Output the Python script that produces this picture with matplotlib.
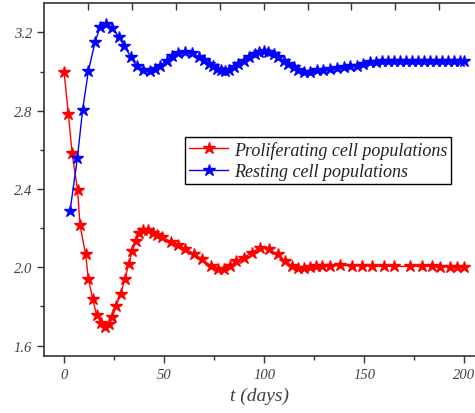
import matplotlib
matplotlib.use("Agg")
import matplotlib.pyplot as plt
from matplotlib.ticker import MultipleLocator

# Proliferating cell populations (red)
t_prolif = [0, 2.2, 4, 6.8, 8, 10.8, 12.2, 14.3, 16.3, 18.5,
            20.7, 22.3, 24.2, 26, 28.3, 30.5, 32.3, 34.2, 35.8, 37.7,
            39.7, 41.8, 44.3, 46.3, 49, 53.3, 57, 60.5, 64.7, 69,
            73.5, 77, 80, 83, 86, 89.7, 93.8, 98, 102.5, 106.8,
            110.5, 113.8, 117, 120, 122.8, 125.7, 129, 133, 138, 143.8,
            148.8, 153.8, 159.7, 165, 173, 178.8, 183.8, 188, 193, 196.3,
            200]
y_prolif = [3.0, 2.783, 2.584, 2.393, 2.216, 2.066, 1.939, 1.84, 1.757, 1.714,
            1.697, 1.71, 1.748, 1.80, 1.866, 1.942, 2.019, 2.083, 2.134, 2.173,
            2.19, 2.19, 2.177, 2.165, 2.155, 2.131, 2.114, 2.095, 2.07, 2.041,
            2.007, 1.993, 1.993, 2.007, 2.03, 2.05, 2.075, 2.10, 2.092, 2.066,
            2.032, 2.007, 1.995, 1.995, 2.003, 2.005, 2.007, 2.008, 2.01, 2.008,
            2.008, 2.005, 2.005, 2.005, 2.005, 2.005, 2.005, 2.003, 2.003, 2.003,
            2.003]

# Resting cell populations (blue)
t_rest = [3, 6.7, 9.3, 12.2, 15.5, 18, 21, 24.2, 27.5, 30.2,
          33.5, 36.3, 39.7, 43, 45.5, 48, 51.3, 54.2, 57.2, 60.5,
          63.8, 67.2, 69.7, 72.2, 74.3, 76.3, 78.5, 80.5, 82.5, 84.7,
          87, 89.7, 92.5, 95.5, 97.5, 99.7, 102, 104.7, 107, 109.7,
          112, 114.7, 117, 119.7, 123, 126.3, 129.5, 133, 136.3, 139.7,
          143, 146.3, 149.5, 153, 156, 159, 162, 165, 168, 171,
          174, 177, 180, 183, 186, 189, 192, 195, 198, 200]
y_rest = [2.287, 2.559, 2.805, 3.004, 3.15, 3.228, 3.245, 3.22, 3.177, 3.128,
          3.074, 3.026, 3.006, 3.002, 3.015, 3.03, 3.056, 3.079, 3.094, 3.102,
          3.096, 3.074, 3.057, 3.039, 3.026, 3.015, 3.006, 3.002, 3.008, 3.022,
          3.038, 3.055, 3.073, 3.09, 3.1, 3.105, 3.1, 3.09, 3.074, 3.055,
          3.038, 3.022, 3.008, 2.997, 3.0, 3.006, 3.01, 3.015, 3.018, 3.022,
          3.026, 3.03, 3.038, 3.047, 3.05, 3.052, 3.052, 3.053, 3.052, 3.052,
          3.052, 3.052, 3.052, 3.052, 3.052, 3.052, 3.052, 3.052, 3.052, 3.052]

x_ticks = [0, 50, 100, 150, 200]
y_ticks = [1.6, 2.0, 2.4, 2.8, 3.2]
top_ticks = [12.2, 34.1, 56, 77.9, 99.8, 121.7, 143.6, 165.5, 187.4]

serif = ["Liberation Serif", "DejaVu Serif"]
label_color = "#404040"

fig = plt.figure(figsize=(4.75, 4.14), dpi=100)
ax = fig.add_axes([0.0926, 0.1377, 0.906, 0.8526])

ax.plot(t_prolif, y_prolif, color="#ff0000", lw=1, marker="*", ms=9,
        label="Proliferating cell populations")
ax.plot(t_rest, y_rest, color="#0000ff", lw=1, marker="*", ms=9,
        label="Resting cell populations")

ax.set_xlim(-10, 205)
ax.set_ylim(1.547, 3.35)
ax.set_xticks(x_ticks)
ax.set_yticks(y_ticks)
ax.xaxis.set_minor_locator(MultipleLocator(25))
ax.yaxis.set_minor_locator(MultipleLocator(0.2))
ax.set_xticklabels([str(v) for v in x_ticks])
ax.set_yticklabels([f"{v:.1f}" for v in y_ticks])

ax.tick_params(which="major", direction="out", length=5, width=1, color="#333333",
               labelsize=10.5, labelcolor=label_color)
ax.tick_params(which="minor", direction="out", length=3, width=1, color="#333333")
for lbl in ax.get_xticklabels() + ax.get_yticklabels():
    lbl.set_family(serif)
    lbl.set_style("italic")

for side in ["left", "bottom", "top"]:
    ax.spines[side].set_color("#333333")
    ax.spines[side].set_linewidth(1.2)
ax.spines["right"].set_visible(False)

top = ax.secondary_xaxis("top")
top.set_xticks(top_ticks)
top.tick_params(direction="in", length=5, width=1, color="#333333", labeltop=False)
top.spines["top"].set_visible(False)

ax.set_xlabel("t (days)", family=serif, style="italic", fontsize=14,
              color=label_color, labelpad=4)

leg = ax.legend(loc="upper left", bbox_to_anchor=(0.328, 0.620), borderaxespad=0,
                prop={"family": serif, "style": "italic", "size": 13},
                fancybox=False, edgecolor="black", framealpha=1,
                handlelength=2.2, handletextpad=0.3, borderpad=0.2,
                labelspacing=0.25)
leg.get_frame().set_linewidth(1)
for txt in leg.get_texts():
    txt.set_color("#222222")

fig.savefig("out.png", dpi=100)
